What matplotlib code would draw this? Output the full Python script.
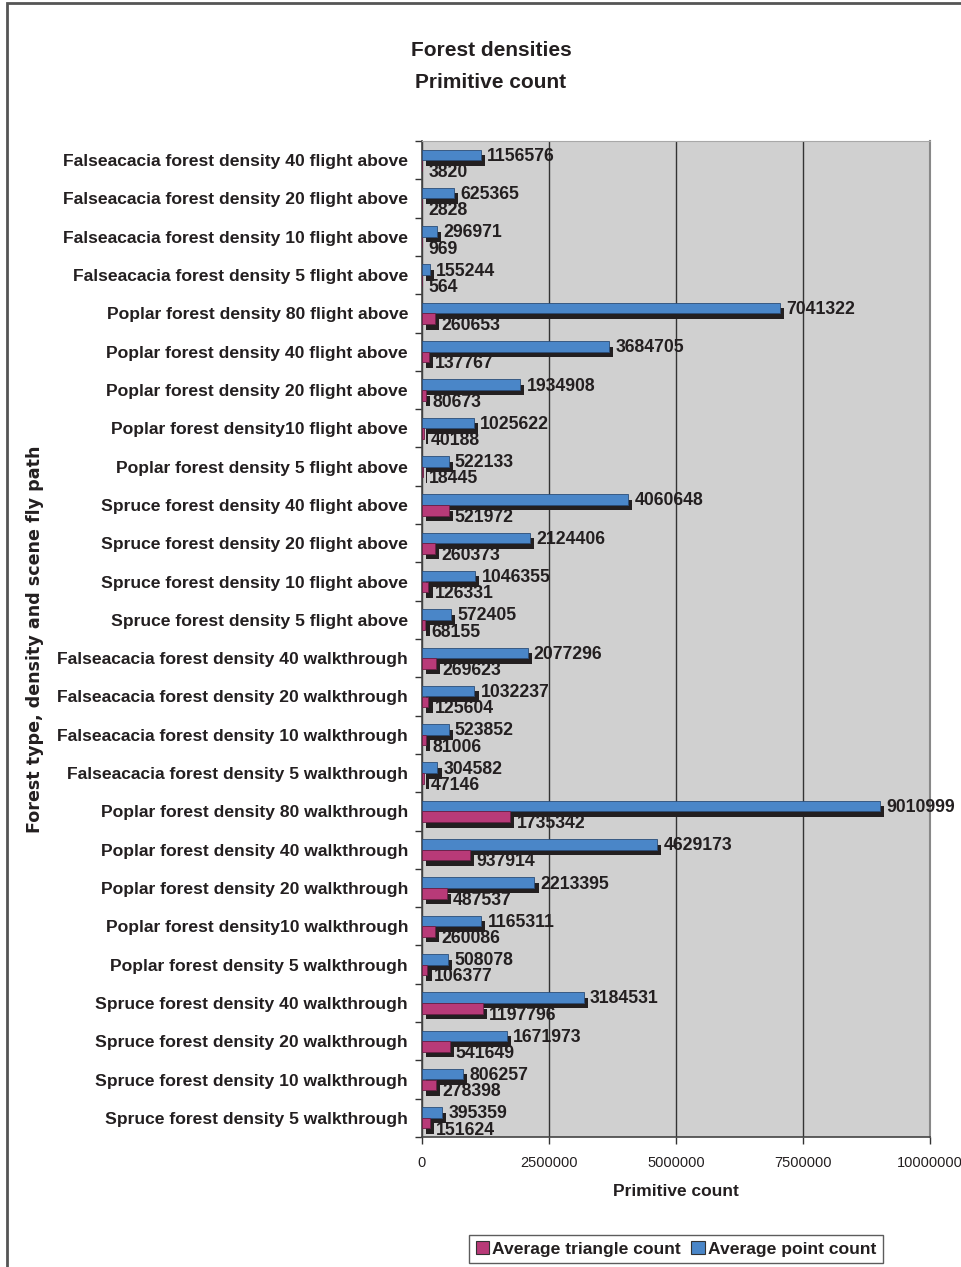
import matplotlib
matplotlib.use("Agg")
import matplotlib.pyplot as plt
import matplotlib.patheffects as pe
from matplotlib.patches import Rectangle, Patch
import numpy as np

categories = [
    "Falseacacia forest density 40 flight above",
    "Falseacacia forest density 20 flight above",
    "Falseacacia forest density 10 flight above",
    "Falseacacia forest density 5 flight above",
    "Poplar forest density 80 flight above",
    "Poplar forest density 40 flight above",
    "Poplar forest density 20 flight above",
    "Poplar forest density10 flight above",
    "Poplar forest density 5 flight above",
    "Spruce forest density 40 flight above",
    "Spruce forest density 20 flight above",
    "Spruce forest density 10 flight above",
    "Spruce forest density 5 flight above",
    "Falseacacia forest density 40 walkthrough",
    "Falseacacia forest density 20 walkthrough",
    "Falseacacia forest density 10 walkthrough",
    "Falseacacia forest density 5 walkthrough",
    "Poplar forest density 80 walkthrough",
    "Poplar forest density 40 walkthrough",
    "Poplar forest density 20 walkthrough",
    "Poplar forest density10 walkthrough",
    "Poplar forest density 5 walkthrough",
    "Spruce forest density 40 walkthrough",
    "Spruce forest density 20 walkthrough",
    "Spruce forest density 10 walkthrough",
    "Spruce forest density 5 walkthrough",
]

point_count = [
    1156576, 625365, 296971, 155244,
    7041322, 3684705, 1934908, 1025622, 522133,
    4060648, 2124406, 1046355, 572405,
    2077296, 1032237, 523852, 304582,
    9010999, 4629173, 2213395, 1165311, 508078,
    3184531, 1671973, 806257, 395359,
]

triangle_count = [
    3820, 2828, 969, 564,
    260653, 137767, 80673, 40188, 18445,
    521972, 260373, 126331, 68155,
    269623, 125604, 81006, 47146,
    1735342, 937914, 487537, 260086, 106377,
    1197796, 541649, 278398, 151624,
]

x_ticks = [0, 2500000, 5000000, 7500000, 10000000]

BLUE = "#4a86c8"
MAGENTA = "#b83a78"
SHADOW = "#231f20"
TEXT = "#231f20"
BOLD = "Liberation Sans"
NARROW = ["Liberation Sans Narrow", "Liberation Sans"]

fig = plt.figure(figsize=(9.61, 12.67), dpi=100)
ax_left, ax_w = 422 / 961, 508 / 961
ax = fig.add_axes([ax_left, 1 - 1137 / 1267, ax_w, 996 / 1267])
ax.set_facecolor("#d0d0d0")

y = np.arange(len(categories))
h = 0.275
shadow = [pe.SimplePatchShadow(offset=(3, -4), shadow_rgbFace=SHADOW, alpha=1.0), pe.Normal()]

blue = ax.barh(y - 0.14, point_count, height=h, color=BLUE, edgecolor="#2b4d78",
               linewidth=0.6, zorder=3)
for p in blue:
    p.set_path_effects(shadow)
mag = ax.barh(y + 0.14, triangle_count, height=h, color=MAGENTA, edgecolor="#6a1f45",
              linewidth=0.6, zorder=4)
for p in mag:
    p.set_path_effects(shadow)

for yi, v in zip(y, point_count):
    ax.annotate(f"{v}", (v, yi - 0.14), xytext=(4.5, -1), textcoords="offset points",
                ha="left", va="center", fontsize=12.7, fontweight="bold",
                family=BOLD, color=TEXT, zorder=6, annotation_clip=False)
for yi, v in zip(y, triangle_count):
    ax.annotate(f"{v}", (v, yi + 0.14), xytext=(4.5, -5), textcoords="offset points",
                ha="left", va="center", fontsize=12.7, fontweight="bold",
                family=BOLD, color=TEXT, zorder=6, annotation_clip=False)

ax.set_ylim(len(categories) - 0.5, -0.5)
ax.set_xlim(0, 10000000)
ax.set_xticks(x_ticks)
ax.set_xticklabels([str(t) for t in x_ticks], fontsize=10.5, family=NARROW, color=TEXT)
ax.set_yticks(y)
ax.set_yticklabels(categories, fontsize=12.6, fontweight="bold", family=BOLD, color=TEXT)
ax.set_yticks(np.arange(len(categories) + 1) - 0.5, minor=True)
ax.tick_params(axis="y", which="major", length=0, pad=10)
ax.tick_params(axis="y", which="minor", length=5, width=1, color="#333333")
ax.tick_params(axis="x", which="major", length=5, width=1, color="#333333", pad=9)

ax.grid(axis="x", color="#333333", linewidth=1, zorder=1)
ax.set_axisbelow(True)
for side in ("left", "bottom"):
    ax.spines[side].set_color("#444444")
    ax.spines[side].set_linewidth(1.2)
ax.spines["top"].set_color("#a8a8a8")
ax.spines["right"].set_color("#888888")
ax.spines["right"].set_linewidth(1.5)

ax.set_xlabel("Primitive count", fontsize=12.5, fontweight="bold", family=BOLD,
              color=TEXT, labelpad=10)
ax.set_ylabel("Forest type, density and scene fly path", fontsize=12.6,
              fontweight="bold", family="DejaVu Sans", color=TEXT)
ax.yaxis.set_label_coords((44 / 961 - ax_left) / ax_w, 0.5)

fig.text(491 / 961, 1 - 51 / 1267, "Forest densities", ha="center", va="center",
         fontsize=15, fontweight="bold", family=BOLD, color=TEXT)
fig.text(491 / 961, 1 - 83 / 1267, "Primitive count", ha="center", va="center",
         fontsize=15, fontweight="bold", family=BOLD, color=TEXT)

handles = [Patch(facecolor=MAGENTA, edgecolor="#333333", linewidth=0.8),
           Patch(facecolor=BLUE, edgecolor="#333333", linewidth=0.8)]
leg = fig.legend(handles, ["Average triangle count", "Average point count"],
                 loc="center", bbox_to_anchor=(676 / 961, 1 - 1249 / 1267),
                 ncol=2, frameon=True, fancybox=False, handlelength=0.75,
                 handleheight=0.75, handletextpad=0.2, columnspacing=0.6,
                 borderpad=0.35, prop={"family": BOLD, "weight": "bold", "size": 12.6})
leg.get_frame().set_edgecolor("#333333")
leg.get_frame().set_linewidth(1.0)
for t in leg.get_texts():
    t.set_color(TEXT)

# outer chart border
fig.patches.append(Rectangle((7 / 961, -0.05), 1.2, 1 - 3 / 1267 + 0.05,
                             transform=fig.transFigure, fill=False,
                             edgecolor="#555555", linewidth=2))

fig.savefig("out.png", dpi=100)
